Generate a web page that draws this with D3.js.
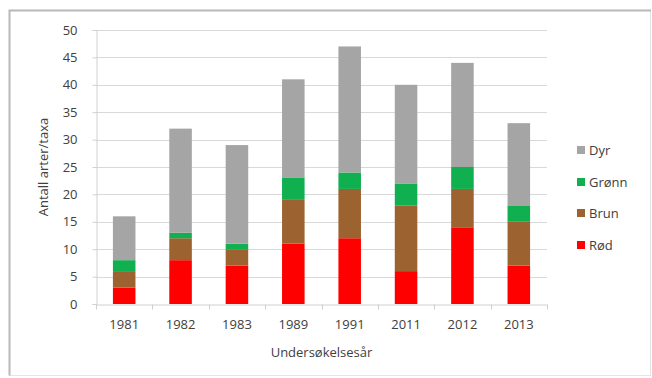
<!DOCTYPE html>
<html><head><meta charset="utf-8">
<script src="https://cdn.jsdelivr.net/npm/d3@7"></script>
<style>body{margin:0;background:#fff}svg{display:block}text{font-family:"Open Sans","Liberation Sans",sans-serif;fill:#404040}</style>
</head><body><svg id="c" width="652" height="378"></svg>
<script>
const categories = ["1981","1982","1983","1989","1991","2011","2012","2013"];
const rod   = [3, 8, 7, 11, 12, 6, 14, 7];
const brun  = [3, 4, 3, 8, 9, 12, 7, 8];
const gronn = [2, 1, 1, 4, 3, 4, 4, 3];
const dyr   = [8, 19, 18, 18, 23, 18, 19, 15];
const seriesNames = ["Rød","Brun","Grønn","Dyr"];
const seriesColors = ["#ff0000","#9c6330","#10b050","#a5a5a5"];
const yTicks = [0,5,10,15,20,25,30,35,40,45,50];

const svg = d3.select("#c");
// frame
svg.append("rect").attr("x",9.5).attr("y",10.5).attr("width",641).attr("height",365)
  .attr("fill","#fff").attr("stroke","#e4e4e4");
svg.append("path").attr("d","M9.5,375.5V10.5H651").attr("fill","none").attr("stroke","#b8b8b8").attr("stroke-width",2);

const L=96, R=547, T=30, B=304;
const x = d3.scaleBand().domain(categories).range([L,R]).paddingInner(0.6).paddingOuter(0.3);
const y = d3.scaleLinear().domain([0,50]).range([B,T]);

const g = svg.append("g");
// gridlines
g.selectAll("line.grid").data(yTicks.slice(1)).join("line")
  .attr("x1",L).attr("x2",R).attr("y1",d=>Math.round(y(d))+0.5).attr("y2",d=>Math.round(y(d))+0.5)
  .attr("stroke","#d9d9d9");

const rows = categories.map((c,i)=>({cat:c, "Rød":rod[i], "Brun":brun[i], "Grønn":gronn[i], "Dyr":dyr[i]}));
const stack = d3.stack().keys(seriesNames)(rows);
stack.forEach((s,k)=>{
  g.selectAll(null).data(s).join("rect")
    .attr("x",d=>x(d.data.cat)).attr("width",x.bandwidth())
    .attr("y",d=>y(d[1])).attr("height",d=>y(d[0])-y(d[1]))
    .attr("fill",seriesColors[k]);
});

// y axis
const ya = d3.axisLeft(y).tickValues(yTicks).tickSize(4).tickPadding(15);
const yg = svg.append("g").attr("transform",`translate(${L+0.5},0)`).call(ya);
yg.select(".domain").attr("stroke","#d0d0d0");
yg.selectAll(".tick line").attr("stroke","#d0d0d0");
yg.selectAll("text").attr("font-size",13).style("fill","#404040");

// x axis
const xa = d3.axisBottom(x).tickSize(0).tickPadding(15);
const xg = svg.append("g").attr("transform",`translate(0,${B+0.5})`).call(xa);
xg.select(".domain").attr("stroke","#d0d0d0");
xg.selectAll("text").attr("font-size",13).style("fill","#404040");
// category separator ticks
xg.selectAll("line.sep").data(d3.range(categories.length+1)).join("line")
  .attr("x1",i=>Math.round(L+i*(R-L)/categories.length)+0.5)
  .attr("x2",i=>Math.round(L+i*(R-L)/categories.length)+0.5)
  .attr("y1",0).attr("y2",5).attr("stroke","#d0d0d0");

// axis titles
svg.append("text").attr("transform","translate(48,167) rotate(-90)").attr("text-anchor","middle")
  .attr("font-size",13).text("Antall arter/taxa");
svg.append("text").attr("x",(L+R)/2).attr("y",357).attr("text-anchor","middle")
  .attr("font-size",13).text("Undersøkelsesår");

// legend
const leg = ["Dyr","Grønn","Brun","Rød"];
const legY = [150,182,213,245];
leg.forEach((n,i)=>{
  const k = seriesNames.indexOf(n);
  svg.append("rect").attr("x",577).attr("y",legY[i]-4).attr("width",8).attr("height",8).attr("fill",seriesColors[k]);
  svg.append("text").attr("x",589).attr("y",legY[i]+5).attr("font-size",13).text(n);
});
</script></body></html>
